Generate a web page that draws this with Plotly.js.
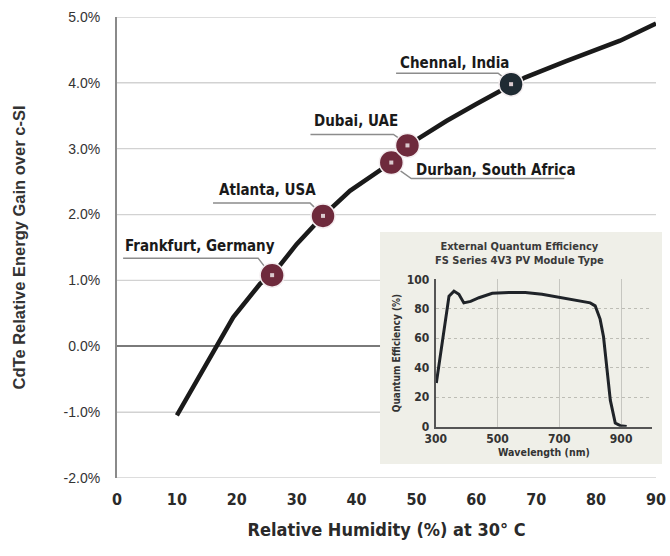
<!DOCTYPE html>
<html>
<head>
<meta charset="utf-8">
<script src="https://cdn.plot.ly/plotly-3.0.1.min.js"></script>
<style>html,body{margin:0;padding:0;background:#fff;}#chart{width:670px;height:556px;}</style>
</head>
<body>
<div id="chart"></div>
<script>
// Main curve: relative humidity (%) vs CdTe relative energy gain (%)
var humidity = [10, 13, 16.6, 19.4, 23.9, 25.9, 30, 34.4, 38.9, 45.8, 48.5, 55, 60, 65.8, 68.1, 75, 80, 84, 90];
var gain = [-1.05, -0.57, 0, 0.44, 0.95, 1.08, 1.55, 1.98, 2.36, 2.79, 3.05, 3.42, 3.68, 3.98, 4.08, 4.33, 4.5, 4.64, 4.9];

// Cities marked on the curve
var cityNames = ["Frankfurt, Germany", "Atlanta, USA", "Durban, South Africa", "Dubai, UAE", "Chennal, India"];
var cityHumidity = [25.9, 34.4, 45.8, 48.5, 65.8];
var cityGain = [1.08, 1.98, 2.79, 3.05, 3.98];
var cityColors = ["#6e2a3c", "#6e2a3c", "#6e2a3c", "#6e2a3c", "#1f2b33"];

// Axis ticks
var xTicks = [0, 10, 20, 30, 40, 50, 60, 70, 80, 90];
var yTicks = [-2, -1, 0, 1, 2, 3, 4, 5];
var yTickText = ["-2.0%", "-1.0%", "0.0%", "1.0%", "2.0%", "3.0%", "4.0%", "5.0%"];

// Inset: external quantum efficiency
var wavelength = [302, 343, 359, 375, 391, 413, 440, 483, 537, 590, 644, 703, 746, 800, 816, 832, 843, 854, 865, 881, 897, 918];
var qe = [29.7, 88.6, 92, 89.8, 84, 85, 87.5, 90.5, 91, 91, 89.8, 87.5, 86, 84, 82, 73, 61, 39, 18, 2.5, 0.7, 0.2];
var insetXTicks = [300, 500, 700, 900];
var insetYTicks = [0, 20, 40, 60, 80, 100];

var NARROW = "Liberation Sans Narrow, DejaVu Sans Condensed, Arial Narrow, sans-serif";
var SANS = "Liberation Sans, Arial, sans-serif";

// label placement (pixel offsets from each marker) and leader paths
var labelShift = [[-149, 29], [-106, 26], [23, -7], [-95, 24], [-113, 21]];
var leaderPaths = [
  "M -149,17 L -14,17 L -4,4",
  "M -110,13 L -13,13 L -4,4",
  "M 6,-6 L 20,-16 L 173,-16",
  "M -97,11 L -14,11 L -4,4",
  "M -115,11 L -13,11 L -4,4"
];

var traces = [
  {
    x: humidity, y: gain, xaxis: "x", yaxis: "y",
    mode: "lines", line: {color: "#1a1a1a", width: 4.5},
    hoverinfo: "skip", showlegend: false
  },
  {
    x: cityHumidity, y: cityGain, xaxis: "x", yaxis: "y",
    mode: "markers", text: cityNames,
    marker: {size: 24, color: cityColors, line: {color: "#f4eef0", width: 1.5}},
    showlegend: false
  },
  {
    x: cityHumidity, y: cityGain, xaxis: "x", yaxis: "y",
    mode: "markers",
    marker: {size: 4, symbol: "square", color: "#d9c9cd"},
    hoverinfo: "skip", showlegend: false
  },
  {
    x: [], y: [], xaxis: "x2", yaxis: "y2", mode: "markers",
    hoverinfo: "skip", showlegend: false
  },
  {
    x: wavelength, y: qe, xaxis: "x3", yaxis: "y3",
    mode: "lines", line: {color: "#1f2328", width: 3},
    hoverinfo: "skip", showlegend: false
  }
];

var annotations = cityNames.map(function (name, i) {
  return {
    x: cityHumidity[i], y: cityGain[i], xref: "x", yref: "y",
    text: name, showarrow: false, xanchor: "left", yanchor: "middle",
    xshift: labelShift[i][0], yshift: labelShift[i][1],
    font: {family: NARROW, size: 15, color: "#1a1a1a", weight: "bold"}
  };
});
annotations.push({
  xref: "paper", yref: "paper", x: 0.7394, y: 0.488,
  text: "External Quantum Efficiency<br>FS Series 4V3 PV Module Type",
  showarrow: false, xanchor: "center", yanchor: "middle",
  font: {family: NARROW, size: 11, color: "#3a3a3a", weight: "bold"}
});

// horizontal gridlines of the main chart, one per y tick (zero line comes from the axis)
var shapes = yTicks.filter(function (v) { return v !== 0; }).map(function (v) {
  return {
    type: "line", xref: "x", yref: "y",
    x0: xTicks[0], x1: xTicks[xTicks.length - 1], y0: v, y1: v,
    layer: "between", line: {color: "#d2d2d2", width: 1.3}
  };
});
leaderPaths.forEach(function (p, i) {
  shapes.push({
    type: "path", xref: "x", yref: "y",
    xsizemode: "pixel", ysizemode: "pixel",
    xanchor: cityHumidity[i], yanchor: cityGain[i],
    path: p, layer: "between",
    line: {color: "#8c8c8c", width: 1.5}
  });
});
shapes.push({
  type: "rect", xref: "x2", yref: "y2", x0: 0, x1: 1, y0: 0, y1: 1,
  layer: "below", fillcolor: "#efefe8", line: {width: 0}
});

var layout = {
  width: 670, height: 556,
  margin: {l: 117, r: 8, t: 17, b: 78},
  paper_bgcolor: "#ffffff", plot_bgcolor: "rgba(0,0,0,0)",
  showlegend: false,
  xaxis: {
    domain: [0, 0.989], range: [0, 90], tickvals: xTicks,
    showgrid: false, zeroline: false, showline: false, ticks: "",
    ticklabelstandoff: 10,
    tickfont: {family: NARROW, size: 16, color: "#2a2a2a", weight: "bold"},
    title: {text: "Relative Humidity (%) at 30° C", standoff: 15,
      font: {family: NARROW, size: 18, color: "#2a2a2a", weight: "bold"}},
    fixedrange: true
  },
  yaxis: {
    domain: [0, 1], range: [-2, 5], tickmode: "array", tickvals: yTicks, ticktext: yTickText,
    showgrid: true, gridcolor: "#d2d2d2", gridwidth: 1.2,
    zeroline: true, zerolinecolor: "#7a7a7a", zerolinewidth: 1.5,
    showline: true, linecolor: "#8a8a8a", linewidth: 2,
    ticks: "", ticklabelstandoff: 12,
    tickfont: {family: SANS, size: 14, color: "#333333"},
    title: {text: "CdTe Relative Energy Gain over c-SI", standoff: 34,
      font: {family: SANS, size: 16.5, color: "#333333", weight: "bold"}},
    fixedrange: true
  },
  xaxis2: {
    domain: [0.4826, 1], range: [0, 1], anchor: "y2",
    showgrid: false, zeroline: false, showline: false, showticklabels: false, ticks: "",
    fixedrange: true
  },
  yaxis2: {
    domain: [0.0304, 0.5336], range: [0, 1], anchor: "x2",
    showgrid: false, zeroline: false, showline: false, showticklabels: false, ticks: "",
    fixedrange: true
  },
  xaxis3: {
    domain: [0.5848, 0.9817], range: [300, 1000], anchor: "y3",
    tickvals: insetXTicks, showgrid: true, gridcolor: "#c6c6c0", gridwidth: 1,
    zeroline: false, showline: true, linecolor: "#555555", linewidth: 2, ticks: "",
    tickfont: {family: NARROW, size: 12, color: "#333333", weight: "bold"},
    title: {text: "Wavelength (nm)", standoff: 1,
      font: {family: NARROW, size: 10.5, color: "#333333", weight: "bold"}},
    fixedrange: true
  },
  yaxis3: {
    domain: [0.1113, 0.4310], range: [0, 100], anchor: "x3",
    tickvals: insetYTicks, showgrid: true, gridcolor: "#bdbdb5", gridwidth: 1, griddash: "dot",
    zeroline: false, showline: true, linecolor: "#555555", linewidth: 2, ticks: "",
    ticklabelstandoff: 2,
    tickfont: {family: NARROW, size: 12, color: "#333333", weight: "bold"},
    title: {text: "Quantum Efficiency (%)", standoff: 4,
      font: {family: NARROW, size: 10, color: "#333333", weight: "bold"}},
    fixedrange: true
  },
  annotations: annotations,
  shapes: shapes
};

Plotly.newPlot("chart", traces, layout, {displayModeBar: false});
</script>
</body>
</html>
